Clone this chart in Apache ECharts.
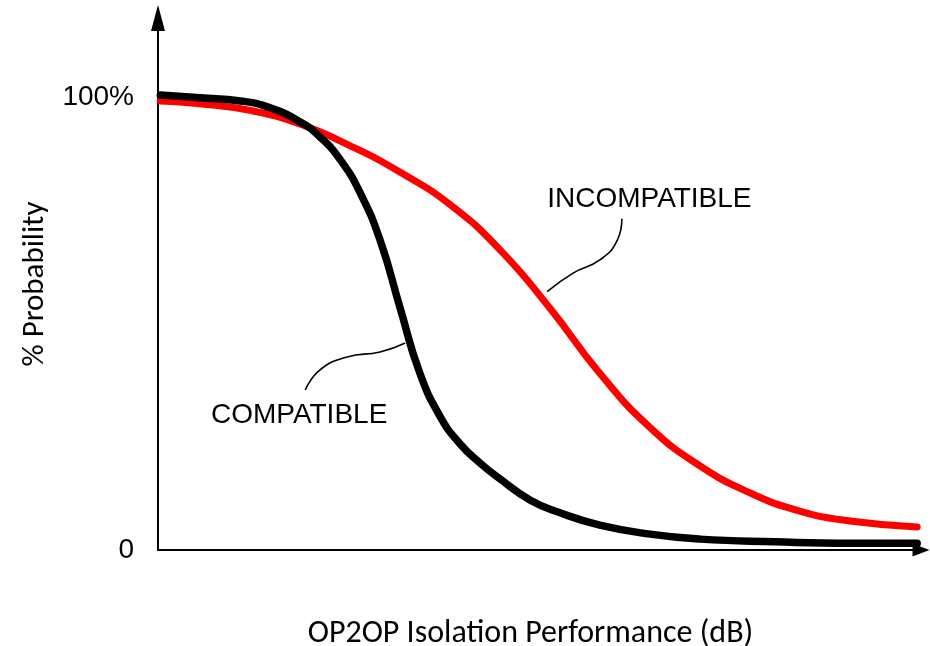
<!DOCTYPE html>
<html>
<head>
<meta charset="utf-8">
<script src="https://cdn.jsdelivr.net/npm/echarts@6/dist/echarts.min.js"></script>
<style>
  html, body { margin: 0; padding: 0; background: #fff; }
  #chart { width: 930px; height: 646px; }
</style>
</head>
<body>
<div id="chart"></div>
<script>
// curve values (x: 0..100 along the axis, y: % probability)
var compatibleX = [0.3, 5.5, 10.8, 14.7, 18.6, 21.2, 23.9, 26.5, 29.1, 31.7, 34.3, 37.0, 39.6, 42.2, 44.8, 48.8, 52.7, 57.9, 64.5, 71.0, 80.9, 90.7, 99.5];
var compatibleY = [100.4, 99.8, 99.1, 97.6, 94.5, 91.2, 86.1, 78.8, 68.4, 53.6, 39.1, 29.4, 23.4, 19.2, 15.7, 11.0, 8.2, 5.5, 3.5, 2.4, 1.8, 1.5, 1.5];

var incompatibleX = [0.3, 5.5, 12.1, 18.6, 25.2, 31.7, 38.3, 44.8, 51.4, 57.9, 64.5, 71.0, 77.6, 84.1, 90.7, 99.5];
var incompatibleY = [99.1, 98.5, 97.0, 94.0, 89.2, 83.4, 76.2, 66.3, 53.3, 39.0, 27.0, 18.6, 12.6, 8.6, 6.4, 5.1];

// callout leader lines and label anchors
var compatibleLeaderX = [19.3, 21.2, 24.8, 29.1, 32.4];
var compatibleLeaderY = [35.3, 39.7, 42.6, 43.7, 45.7];
var incompatibleLeaderX = [51.0, 54.4, 57.9, 60.2, 60.8];
var incompatibleLeaderY = [57.0, 61.1, 64.0, 68.4, 73.1];

var calloutNames = ['COMPATIBLE', 'INCOMPATIBLE'];
var calloutX = [18.5, 64.4];
var calloutY = [29.8, 77.5];

var yTickLabels = { 0: '0', 100: '100%' };

function zip(xs, ys) {
    return xs.map(function (x, i) { return [x, ys[i]]; });
}

var plain = "'Liberation Sans Narrow', 'Arial Narrow', 'Liberation Sans', Arial, sans-serif";
var humanist = "Carlito, Calibri, Lato, 'Noto Sans', sans-serif";

var chart = echarts.init(document.getElementById('chart'), null, { renderer: 'canvas' });

var option = {
    animation: false,
    backgroundColor: '#fff',
    grid: { left: 158, right: 9, top: 18, bottom: 96, containLabel: false, outerBoundsMode: 'none' },
    xAxis: {
        type: 'value',
        min: 0,
        max: 100,
        name: 'OP2OP Isolation Performance (dB)',
        nameLocation: 'middle',
        nameGap: 68,
        nameTextStyle: { fontFamily: humanist, fontSize: 32, color: '#000', padding: [0, 18, 0, 0] },
        axisLine: {
            show: true,
            symbol: ['none', 'triangle'],
            symbolSize: [13, 17],
            lineStyle: { color: '#000', width: 2 }
        },
        axisTick: { show: false },
        axisLabel: { show: false },
        splitLine: { show: false }
    },
    yAxis: {
        type: 'value',
        min: 0,
        max: 117.4,
        interval: 100,
        name: '% Probability',
        nameLocation: 'middle',
        nameRotate: 90,
        nameGap: 107,
        nameTextStyle: { fontFamily: humanist, fontSize: 31, color: '#000' },
        axisLine: {
            show: true,
            symbol: ['none', 'triangle'],
            symbolSize: [14, 26],
            lineStyle: { color: '#000', width: 2 }
        },
        axisTick: { show: false },
        axisLabel: {
            margin: 24,
            fontFamily: plain,
            fontSize: 28,
            color: '#000',
            formatter: function (v) { return yTickLabels[v] || ''; }
        },
        splitLine: { show: false }
    },
    series: [
        {
            name: 'INCOMPATIBLE',
            type: 'line',
            data: zip(incompatibleX, incompatibleY),
            smooth: true,
            symbol: 'none',
            lineStyle: { color: '#ff0000', width: 7, cap: 'round' },
            z: 3
        },
        {
            name: 'COMPATIBLE',
            type: 'line',
            data: zip(compatibleX, compatibleY),
            smooth: true,
            symbol: 'none',
            lineStyle: { color: '#000', width: 7.5, cap: 'round' },
            z: 4
        },
        {
            name: 'leader-compatible',
            type: 'line',
            data: zip(compatibleLeaderX, compatibleLeaderY),
            smooth: 0.5,
            symbol: 'none',
            lineStyle: { color: '#000', width: 1.6 },
            z: 5
        },
        {
            name: 'leader-incompatible',
            type: 'line',
            data: zip(incompatibleLeaderX, incompatibleLeaderY),
            smooth: 0.5,
            symbol: 'none',
            lineStyle: { color: '#000', width: 1.6 },
            z: 5
        },
        {
            name: 'callouts',
            type: 'scatter',
            symbolSize: 0,
            silent: true,
            itemStyle: { color: '#000', opacity: 1 },
            data: calloutNames.map(function (n, i) {
                return { name: n, value: [calloutX[i], calloutY[i]] };
            }),
            label: {
                show: true,
                position: [0, 0],
                align: 'center',
                verticalAlign: 'middle',
                formatter: '{b}',
                fontFamily: plain,
                fontSize: 28,
                color: '#000',
                opacity: 1
            },
            z: 6
        }
    ]
};

chart.setOption(option);
</script>
</body>
</html>
